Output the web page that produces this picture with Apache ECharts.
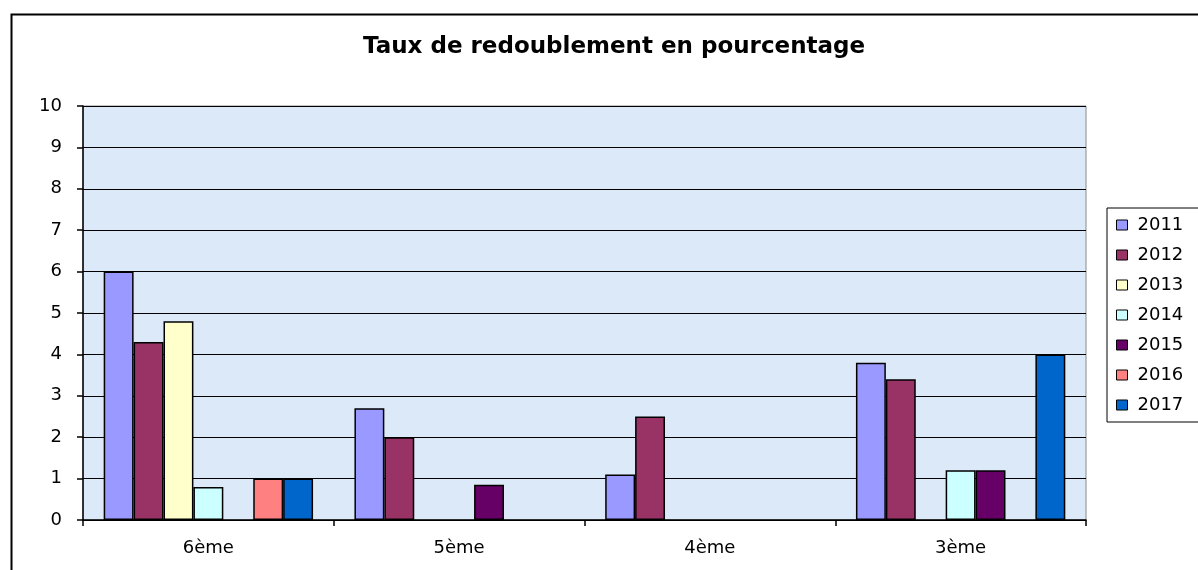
<!DOCTYPE html>
<html>
<head>
<meta charset="utf-8">
<script src="https://cdn.jsdelivr.net/npm/echarts@6/dist/echarts.min.js"></script>
<style>
html, body { margin: 0; padding: 0; background: #fff; }
#chart1 { width: 1198px; height: 570px; }
</style>
</head>
<body>
<div id="chart1"></div>
<script>
var myChart = echarts.init(document.getElementById('chart1'));

var niveaux = ['6ème', '5ème', '4ème', '3ème'];
var annees = ['2011', '2012', '2013', '2014', '2015', '2016', '2017'];
var couleurs = ['#9999ff', '#993366', '#ffffcc', '#ccffff', '#660066', '#ff8080', '#0066cc'];
var yTicks = [0, 10, 1];

// one array per year, in the order of niveaux
var v2011 = [6, 2.7, 1.1, 3.8];
var v2012 = [4.3, 2, 2.5, 3.4];
var v2013 = [4.8, null, null, null];
var v2014 = [0.8, null, null, 1.2];
var v2015 = [null, 0.85, null, 1.2];
var v2016 = [1, null, null, null];
var v2017 = [1, null, null, 4];
var valeurs = [v2011, v2012, v2013, v2014, v2015, v2016, v2017];

var police = 'DejaVu Sans';

var series = [];
for (var i = 0; i < annees.length; i++) {
    series.push({
        name: annees[i],
        type: 'bar',
        data: valeurs[i],
        barGap: '0%',
        barCategoryGap: '16.5%',
        itemStyle: {
            color: couleurs[i],
            borderColor: '#000',
            borderWidth: 1.5
        },
        animation: false
    });
}

var option = {
    backgroundColor: '#fff',
    title: {
        text: 'Taux de redoublement en pourcentage',
        left: 358,
        top: 31,
        textStyle: {
            color: '#000',
            fontSize: 23,
            fontWeight: 'bold',
            fontFamily: police
        }
    },
    graphic: [{
        type: 'rect',
        left: 9,
        top: 12,
        shape: { width: 1300, height: 700 },
        style: { fill: 'none', stroke: '#000', lineWidth: 2 },
        silent: true
    }],
    legend: {
        orient: 'vertical',
        left: 1107,
        top: 208,
        data: annees,
        itemWidth: 11,
        itemHeight: 10,
        itemGap: 12,
        padding: [8, 30, 8, 9],
        borderColor: '#000',
        borderWidth: 1,
        icon: 'rect',
        itemStyle: { borderColor: '#000', borderWidth: 1 },
        textStyle: {
            color: '#000',
            fontSize: 18,
            lineHeight: 18,
            padding: [0, 0, 0, 5],
            fontFamily: police
        }
    },
    grid: {
        left: 83,
        top: 106,
        width: 1003,
        height: 414,
        show: true,
        backgroundColor: '#dce9f8',
        borderColor: '#8a8a8a',
        borderWidth: 1
    },
    xAxis: {
        type: 'category',
        data: niveaux,
        axisLine: { show: true, lineStyle: { color: '#000', width: 1.5 } },
        axisTick: { show: true, length: 6, lineStyle: { color: '#000', width: 1.5 } },
        axisLabel: {
            color: '#000',
            fontSize: 18,
            margin: 19,
            fontFamily: police
        }
    },
    yAxis: {
        type: 'value',
        min: yTicks[0],
        max: yTicks[1],
        interval: yTicks[2],
        axisLine: { show: true, lineStyle: { color: '#000', width: 1.5 } },
        axisTick: { show: true, length: 6, lineStyle: { color: '#000', width: 1.5 } },
        splitLine: { show: true, lineStyle: { color: '#000', width: 1.2 } },
        axisLabel: {
            color: '#000',
            fontSize: 18,
            margin: 21,
            fontFamily: police
        }
    },
    series: series
};
myChart.setOption(option);
</script>
</body>
</html>
